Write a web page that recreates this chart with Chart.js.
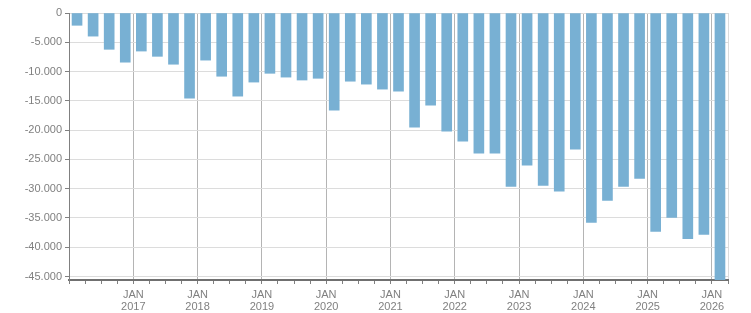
<!DOCTYPE html>
<html>
<head>
<meta charset="utf-8">
<script src="https://cdn.jsdelivr.net/npm/chart.js@4.4.1/dist/chart.umd.min.js"></script>
<style>
  html, body { margin: 0; padding: 0; background: #fff; }
  #c { display: block; }
</style>
</head>
<body>
<canvas id="c" width="751" height="313"></canvas>
<script>
// Quarterly categories, Q1 2016 .. Q1 2026
const categories = [
  '2016 Q1','2016 Q2','2016 Q3','2016 Q4',
  '2017 Q1','2017 Q2','2017 Q3','2017 Q4',
  '2018 Q1','2018 Q2','2018 Q3','2018 Q4',
  '2019 Q1','2019 Q2','2019 Q3','2019 Q4',
  '2020 Q1','2020 Q2','2020 Q3','2020 Q4',
  '2021 Q1','2021 Q2','2021 Q3','2021 Q4',
  '2022 Q1','2022 Q2','2022 Q3','2022 Q4',
  '2023 Q1','2023 Q2','2023 Q3','2023 Q4',
  '2024 Q1','2024 Q2','2024 Q3','2024 Q4',
  '2025 Q1','2025 Q2','2025 Q3','2025 Q4',
  '2026 Q1'
];
const values = [
  -2100, -3950, -6200, -8400,
  -6500, -7400, -8750, -14550,
  -8050, -10800, -14200, -11800,
  -10300, -10950, -11450, -11150,
  -16600, -11650, -12150, -13000,
  -13350, -19500, -15750, -20200,
  -21900, -23950, -23950, -29600,
  -26000, -29450, -30450, -23250,
  -35750, -32000, -29600, -28250,
  -37300, -34900, -38550, -37800,
  -46500
];
const tickYears = ['2017','2018','2019','2020','2021','2022','2023','2024','2025','2026'];
const yTicks = [0, -5000, -10000, -15000, -20000, -25000, -30000, -35000, -40000, -45000];

function fmt(v) {
  if (v === 0) return '0';
  const s = String(Math.abs(Math.round(v))).replace(/\B(?=(\d{3})+(?!\d))/g, '.');
  return (v < 0 ? '-' : '') + s;
}

const points = values.map((v, i) => ({ x: i + 0.5, y: v }));

new Chart(document.getElementById('c'), {
  type: 'bar',
  data: {
    datasets: [{
      label: 'Value',
      data: points,
      backgroundColor: '#78b0d3',
      borderWidth: 0,
      barThickness: 10
    }]
  },
  options: {
    responsive: false,
    animation: false,
    devicePixelRatio: 1,
    layout: { padding: { top: 13, right: 23, left: 0, bottom: 0 } },
    plugins: { legend: { display: false }, tooltip: { enabled: false } },
    scales: {
      x: {
        type: 'linear',
        offset: false,
        min: 0,
        max: categories.length,
        afterBuildTicks: (scale) => {
          const t = [];
          for (let i = 0; i <= categories.length; i++) t.push({ value: i });
          scale.ticks = t;
        },
        afterFit: (scale) => { scale.height = 33; },
        ticks: {
          autoSkip: false,
          maxRotation: 0,
          minRotation: 0,
          padding: 5,
          color: '#808080',
          font: { family: 'Liberation Sans', size: 11, lineHeight: 1.07 },
          callback: (value) => {
            if (value > 0 && value % 4 === 0) {
              const y = tickYears[value / 4 - 1];
              return y ? ['JAN', y] : '';
            }
            return '';
          }
        },
        grid: {
          offset: false,
          color: (ctx) => {
            const v = ctx.tick ? ctx.tick.value : null;
            if (v === categories.length) return '#dcdcdc';
            if (v !== null && v % 4 === 0) return '#b4b4b4';
            return 'rgba(0,0,0,0)';
          },
          tickColor: '#808080',
          tickLength: 4,
          drawTicks: true
        },
        border: { color: '#707070', width: 2 }
      },
      y: {
        min: -45600,
        max: 0,
        afterBuildTicks: (scale) => {
          scale.ticks = yTicks.map(v => ({ value: v }));
        },
        afterFit: (scale) => { scale.width = 69; },
        ticks: {
          padding: 3,
          color: '#808080',
          font: { family: 'Liberation Sans', size: 11 },
          callback: (v) => fmt(v)
        },
        grid: {
          color: '#dcdcdc',
          tickColor: '#808080',
          tickLength: 4
        },
        border: { color: '#808080', width: 1 }
      }
    }
  }
});
</script>
</body>
</html>
